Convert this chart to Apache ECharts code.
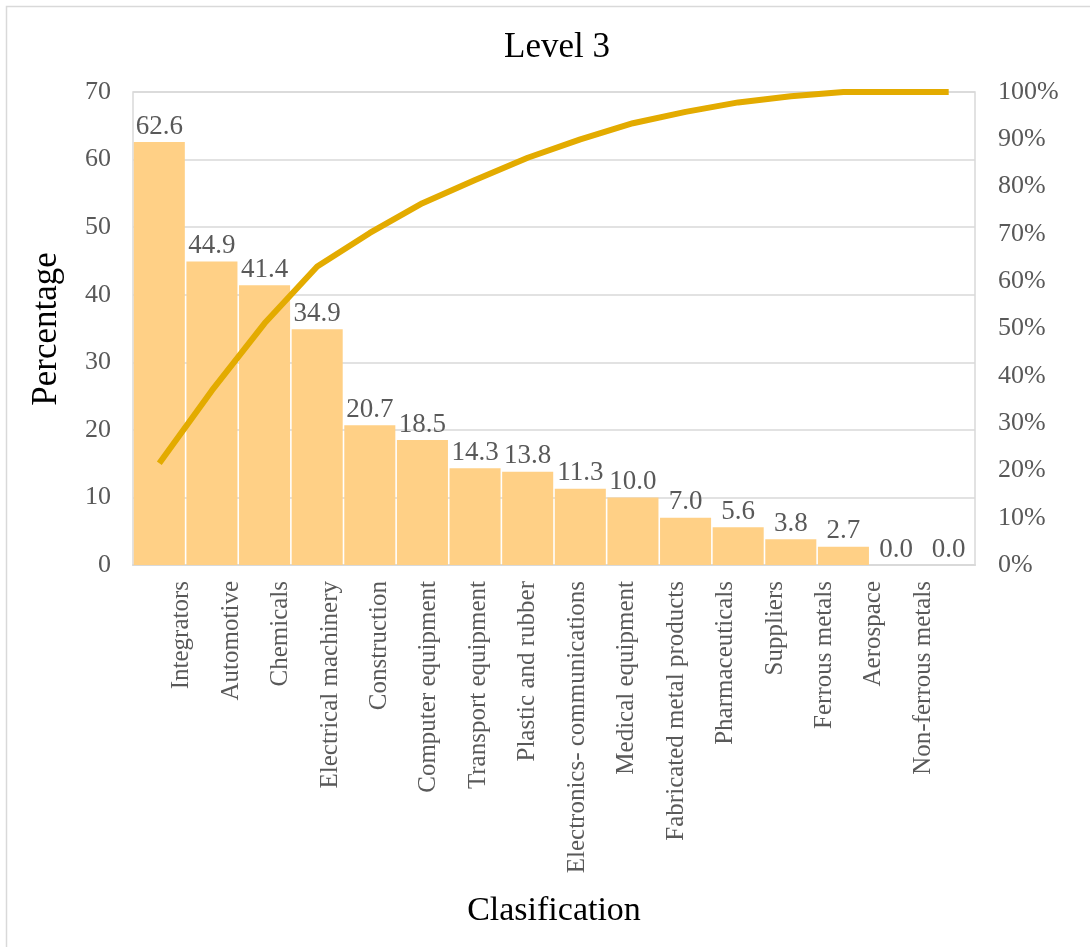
<!DOCTYPE html>
<html>
<head>
<meta charset="utf-8">
<script src="https://cdn.jsdelivr.net/npm/echarts@6/dist/echarts.min.js"></script>
<style>
  html, body { margin: 0; padding: 0; background: #ffffff; }
  #chart { width: 1090px; height: 947px; }
</style>
</head>
<body>
<div id="chart"></div>
<script>
// Level 3 Pareto: share per classification with cumulative percentage
const categories = [
  'Integrators', 'Automotive', 'Chemicals', 'Electrical machinery', 'Construction',
  'Computer equipment', 'Transport equipment', 'Plastic and rubber',
  'Electronics- communications', 'Medical equipment', 'Fabricated metal products',
  'Pharmaceuticals', 'Suppliers', 'Ferrous metals', 'Aerospace', 'Non-ferrous metals'
];
const shareValues = [62.6, 44.9, 41.4, 34.9, 20.7, 18.5, 14.3, 13.8, 11.3, 10.0, 7.0, 5.6, 3.8, 2.7, 0.0, 0.0];
const cumulativePercent = [21.5, 36.9, 51.1, 63.1, 70.2, 76.5, 81.4, 86.1, 90.0, 93.4, 95.8, 97.8, 99.1, 100, 100, 100];
const leftTicks = { min: 0, max: 70, interval: 10 };
const rightTicks = { min: 0, max: 100, interval: 10 };

const FONT = "'Times New Roman', 'Liberation Serif', serif";
const GREY_TEXT = '#595959';
const GRID_LINE = '#d9d9d9';

const chart = echarts.init(document.getElementById('chart'), null, { renderer: 'canvas' });

chart.setOption({
  backgroundColor: '#ffffff',
  animation: false,
  textStyle: { fontFamily: FONT },
  title: {
    text: 'Level 3',
    left: 552,
    top: 25,
    textAlign: 'center',
    textStyle: { fontFamily: FONT, fontSize: 35, fontWeight: 'normal', color: '#000000' }
  },
  grid: [
    { left: 133, right: 115, top: 92, bottom: 382, show: true, borderColor: GRID_LINE, borderWidth: 1.5 },
    // label band for the category names
    { left: 157, right: 142, top: 92, bottom: 382 }
  ],
  xAxis: [
    {
      type: 'category',
      gridIndex: 0,
      data: categories,
      axisLine: { show: true, lineStyle: { color: GRID_LINE, width: 2 } },
      axisTick: { show: false },
      axisLabel: { show: false }
    },
    {
      type: 'category',
      gridIndex: 1,
      data: categories,
      axisLine: { show: false },
      axisTick: { show: false },
      axisLabel: {
        rotate: 90,
        margin: 16,
        interval: 0,
        fontFamily: FONT,
        fontSize: 25,
        color: GREY_TEXT
      }
    }
  ],
  yAxis: [
    {
      type: 'value',
      gridIndex: 0,
      min: leftTicks.min, max: leftTicks.max, interval: leftTicks.interval,
      axisLine: { show: false },
      axisTick: { show: false },
      splitLine: { show: true, lineStyle: { color: GRID_LINE, width: 1.5 } },
      axisLabel: { margin: 22, fontFamily: FONT, fontSize: 26, color: GREY_TEXT }
    },
    {
      type: 'value',
      gridIndex: 0,
      position: 'right',
      min: rightTicks.min, max: rightTicks.max, interval: rightTicks.interval,
      axisLine: { show: false },
      axisTick: { show: false },
      splitLine: { show: false },
      axisLabel: { margin: 23, formatter: '{value}%', fontFamily: FONT, fontSize: 26, color: GREY_TEXT }
    },
    {
      type: 'value',
      gridIndex: 1,
      show: false
    }
  ],
  series: [
    {
      name: 'Percentage',
      type: 'bar',
      xAxisIndex: 0,
      yAxisIndex: 0,
      data: shareValues,
      barCategoryGap: '3%',
      itemStyle: { color: '#FFD086' },
      label: {
        show: true,
        position: 'top',
        distance: 2,
        formatter: p => p.value.toFixed(1),
        fontFamily: FONT,
        fontSize: 27,
        color: GREY_TEXT
      },
      z: 2
    },
    {
      name: 'Cumulative',
      type: 'line',
      xAxisIndex: 0,
      yAxisIndex: 1,
      data: cumulativePercent,
      symbol: 'none',
      lineStyle: { color: '#E3AB00', width: 6 },
      z: 3
    }
  ],
  graphic: [
    {
      type: 'text',
      x: 47, y: 329,
      rotation: Math.PI / 2,
      style: {
        text: 'Percentage',
        fontFamily: FONT,
        fontSize: 35,
        fill: '#000000',
        align: 'center',
        verticalAlign: 'middle'
      }
    },
    {
      type: 'text',
      x: 554, y: 911,
      style: {
        text: 'Clasification',
        fontFamily: FONT,
        fontSize: 34,
        fill: '#000000',
        align: 'center',
        verticalAlign: 'middle'
      }
    },
    {
      type: 'polyline',
      shape: { points: [[6.5, 947], [6.5, 6.5], [1090, 6.5]] },
      style: { stroke: GRID_LINE, lineWidth: 1.5, fill: null }
    }
  ]
});
</script>
</body>
</html>
